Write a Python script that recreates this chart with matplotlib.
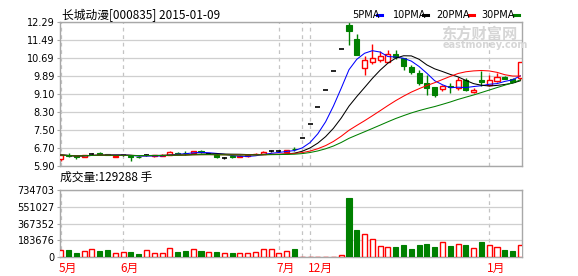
import matplotlib.pyplot as plt
import matplotlib.lines as mlines
import numpy as np
import pandas as pd

plt.rcParams['font.family'] = ['Noto Sans CJK SC', 'DejaVu Sans']

# daily candles (window ends 2015-01-09)
opens = [6.20, 6.40, 6.33, 6.29, 6.43, 6.46, 6.42, 6.29, 6.39, 6.34,
         6.31, 6.37, 6.33, 6.36, 6.39, 6.49, 6.48, 6.48, 6.58, 6.45,
         6.39, 6.27, 6.33, 6.29, 6.33, 6.43, 6.45, 6.57, 6.55, 6.54,
         6.66, 7.13, 7.75, 8.50, 9.27, 10.11, 11.08, 12.13, 11.54, 10.24,
         10.50, 10.61, 10.50, 10.86, 10.68, 10.27, 10.02, 9.58, 9.39, 9.32,
         9.46, 9.35, 9.72, 9.18, 9.72, 9.50, 9.65, 9.84, 9.75, 9.80]
highs = [6.40, 6.46, 6.35, 6.40, 6.49, 6.54, 6.44, 6.39, 6.41, 6.36,
         6.33, 6.42, 6.38, 6.41, 6.58, 6.52, 6.57, 6.58, 6.62, 6.48,
         6.49, 6.31, 6.35, 6.37, 6.42, 6.49, 6.55, 6.60, 6.59, 6.63,
         6.72, 7.13, 7.75, 8.50, 9.27, 10.11, 11.08, 12.29, 11.75, 10.76,
         11.30, 10.98, 11.04, 11.05, 10.68, 10.39, 10.16, 9.94, 9.39, 9.50,
         9.58, 9.83, 9.81, 9.35, 10.09, 9.94, 10.02, 9.88, 9.78, 10.51]
lows = [6.12, 6.31, 6.22, 6.28, 6.38, 6.39, 6.37, 6.28, 6.36, 6.13,
        6.27, 6.33, 6.30, 6.34, 6.38, 6.44, 6.38, 6.46, 6.48, 6.42,
        6.27, 6.20, 6.27, 6.28, 6.32, 6.40, 6.44, 6.53, 6.51, 6.53,
        6.57, 7.13, 7.75, 8.50, 9.27, 10.11, 11.08, 11.27, 10.80, 9.92,
        10.41, 10.50, 10.50, 10.65, 10.16, 9.97, 9.50, 9.06, 8.94, 9.20,
        9.13, 9.28, 9.21, 9.15, 9.45, 9.43, 9.62, 9.74, 9.60, 9.72]
closes = [6.39, 6.34, 6.30, 6.38, 6.43, 6.44, 6.38, 6.34, 6.39, 6.31,
          6.28, 6.37, 6.37, 6.39, 6.53, 6.45, 6.47, 6.57, 6.50, 6.45,
          6.30, 6.27, 6.30, 6.35, 6.40, 6.44, 6.54, 6.57, 6.55, 6.62,
          6.64, 7.13, 7.75, 8.50, 9.27, 10.11, 11.08, 11.86, 10.80, 10.61,
          10.68, 10.78, 10.86, 10.71, 10.32, 10.06, 9.58, 9.36, 9.06, 9.43,
          9.40, 9.70, 9.28, 9.28, 9.62, 9.72, 9.84, 9.77, 9.63, 10.51]
volumes = [80000, 80000, 47000, 69000, 91000, 69000, 80000, 47000, 58000, 58000,
           36000, 80000, 47000, 47000, 102000, 58000, 69000, 91000, 69000, 58000,
           58000, 47000, 47000, 47000, 47000, 58000, 91000, 91000, 47000, 69000,
           91000, 5000, 5000, 5000, 5000, 5000, 25000, 651000, 298000, 254000,
           200000, 123000, 109000, 112000, 134000, 91000, 134000, 145000, 112000, 167000,
           123000, 145000, 134000, 102000, 167000, 134000, 112000, 80000, 69000, 129288]

month_idx = [0, 8, 28, 32, 55]
month_labels = ['5月', '6月', '7月', '12月', '1月']
extra_month_lines = [31]

price_ticks = [5.90, 6.70, 7.50, 8.30, 9.10, 9.89, 10.69, 11.49, 12.29]
vol_ticks = [0, 183676, 367352, 551027, 734703]
ma_periods = [5, 10, 20, 30]
ma_names = ['5PMA', '10PMA', '20PMA', '30PMA']
ma_colors = ['#0000ff', '#000000', '#ff0000', '#008000']

RED = '#ff0000'
GREEN = '#008000'
BORDER = '#a8a8a8'
GRID = '#cfcfcf'

W, H = 578, 276
fig = plt.figure(figsize=(W / 100, H / 100), dpi=100)
ax = fig.add_axes([60 / W, 1 - 166 / H, 462.3 / W, 144.3 / H])
axv = fig.add_axes([60 / W, 1 - 257.3 / H, 462.3 / W, 67.3 / H])

o = np.array(opens)
h = np.array(highs)
l = np.array(lows)
c = np.array(closes)
v = np.array(volumes)
x = np.arange(len(c))
bw = 0.65

up = c > o
down = c < o
flat = c == o

# wicks
ax.vlines(x[up], l[up], h[up], color=RED, lw=1, zorder=2)
ax.vlines(x[down], l[down], h[down], color=GREEN, lw=1, zorder=2)
ax.vlines(x[flat], l[flat], h[flat], color='black', lw=1, zorder=2)
# bodies
ax.bar(x[up], c[up] - o[up], bottom=o[up], width=bw, facecolor='white',
       edgecolor=RED, lw=1, zorder=3)
ax.bar(x[down], o[down] - c[down], bottom=c[down], width=bw, color=GREEN,
       edgecolor=GREEN, lw=0.8, zorder=3)
ax.hlines(o[flat], x[flat] - bw / 2, x[flat] + bw / 2, color='black', lw=1.2, zorder=3)

# moving averages
cs = pd.Series(closes)
for n, col in zip(ma_periods, ma_colors):
    ax.plot(x, cs.rolling(n, min_periods=1).mean(), color=col, lw=0.75, zorder=4)

# volume
vup = c >= o
axv.bar(x[vup], v[vup], width=bw, facecolor='white', edgecolor=RED, lw=1, zorder=3)
axv.bar(x[~vup], v[~vup], width=bw, color=GREEN, edgecolor=GREEN, lw=0.8, zorder=3)

for a in (ax, axv):
    a.set_xlim(-0.1, 59.25)
    a.set_xticks([])
    a.grid(axis='y', color=GRID, lw=0.9, zorder=0)
    for m in month_idx + extra_month_lines:
        a.axvline(m, color='#c4c4c4', lw=0.9, ls=(0, (3, 3)), zorder=1)
    for s in a.spines.values():
        s.set_color(BORDER)
        s.set_linewidth(1)
    a.tick_params(axis='y', length=2, color=BORDER, pad=2, labelsize=7)

ax.set_ylim(5.90, 12.29)
ax.set_yticks(price_ticks, [f'{t:.2f}' for t in price_ticks], family='DejaVu Sans')
axv.set_ylim(0, 734703)
axv.set_yticks(vol_ticks, [str(t) for t in vol_ticks], family='DejaVu Sans')

for m, lab in zip(month_idx, month_labels):
    axv.text(m - 0.3, -0.07, lab, transform=axv.get_xaxis_transform(),
             color=RED, fontsize=8.5, ha='left', va='top')

# titles
fig.text(62 / W, 1 - 15 / H, '长城动漫[000835] 2015-01-09', fontsize=8.5, va='center')
fig.text(60 / W, 1 - 177.5 / H, '成交量:129288 手', fontsize=8.5, va='center')

# MA legend
leg_x = [351.7, 393, 436.7, 481.7]
dash_x = [376.7, 422.7, 469.3, 514.3]
for name, col, tx, dx in zip(ma_names, ma_colors, leg_x, dash_x):
    fig.text(tx / W, 1 - 14.5 / H, name, fontsize=7, family='DejaVu Sans', va='center')
    fig.add_artist(mlines.Line2D([dx / W, (dx + 5) / W], [1 - 14.5 / H, 1 - 14.5 / H],
                                 color=col, lw=2.2))

# watermark
fig.text(441 / W, 1 - 34 / H, '东方财富网', fontsize=11, color='#d6d6d6',
         weight='bold', va='center')
fig.text(443 / W, 1 - 45.5 / H, 'eastmoney.com', fontsize=7, color='#d6d6d6',
         weight='bold', va='center', family='DejaVu Sans')

fig.savefig('out.png', dpi=100)
